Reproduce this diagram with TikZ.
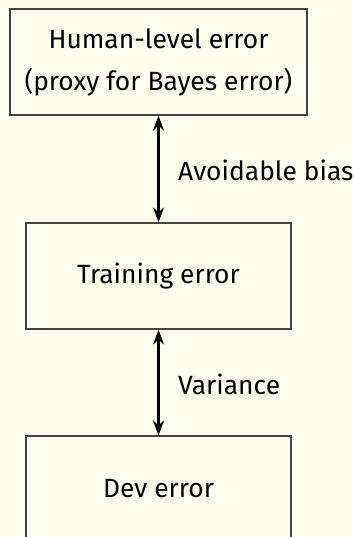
\documentclass[tikz,border=0pt]{standalone}
\usepackage{fontspec}
\setmainfont{Fira Sans}
\usetikzlibrary{arrows.meta}
\definecolor{paper}{RGB}{255,255,240}
\definecolor{boxline}{RGB}{68,68,68}
\begin{document}
\begin{tikzpicture}[x=1pt,y=-1pt,
  errbox/.style={draw=boxline, line width=1.2pt, rectangle, inner sep=0pt,
    minimum height=106pt, align=center,
    font=\fontsize{26.4}{42}\selectfont},
  gap/.style={line width=2.2pt, {Stealth[length=15pt,width=11pt,inset=5pt]}-{Stealth[length=15pt,width=11pt,inset=5pt]}},
  lbl/.style={anchor=west, inner sep=0pt, font=\fontsize{26.4}{30}\selectfont}]
  \fill[paper] (0,0) rectangle (353,537);
  \useasboundingbox (0,0) rectangle (353,537);

  \node[errbox, minimum width=297pt] (human) at (158.5,62)
    {Human-level error\\(proxy for Bayes error)};
  \node[errbox, minimum width=265pt] (train) at (158.5,276) {Training error};
  \node[errbox, minimum width=265pt] (dev) at (158.5,489) {Dev error};

  \draw[gap] (human.south) -- (train.north);
  \draw[gap] (train.south) -- (dev.north);

  \node[lbl] (bias) at (178,170) {Avoidable bias};
  \node[lbl] (var) at (178,384) {Variance};
\end{tikzpicture}
\end{document}
